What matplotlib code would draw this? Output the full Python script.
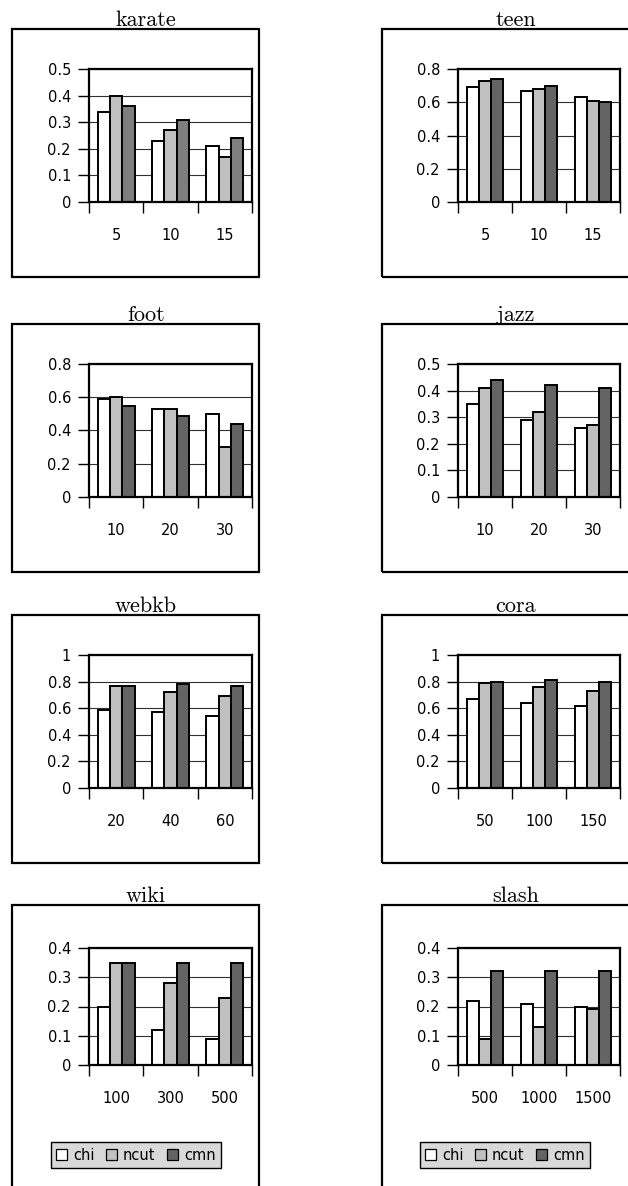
import numpy as np
import matplotlib
matplotlib.use("Agg")
import matplotlib.pyplot as plt
from matplotlib.patches import Rectangle, Patch

# ---------------- data ----------------
series_names = ["chi", "ncut", "cmn"]

titles = ["karate", "teen", "foot", "jazz", "webkb", "cora", "wiki", "slash"]

cats_karate = ["5", "10", "15"]
chi_karate = [0.34, 0.23, 0.21]
ncut_karate = [0.40, 0.27, 0.17]
cmn_karate = [0.36, 0.31, 0.24]

cats_teen = ["5", "10", "15"]
chi_teen = [0.69, 0.67, 0.63]
ncut_teen = [0.73, 0.68, 0.61]
cmn_teen = [0.74, 0.70, 0.60]

cats_foot = ["10", "20", "30"]
chi_foot = [0.59, 0.53, 0.50]
ncut_foot = [0.60, 0.53, 0.30]
cmn_foot = [0.55, 0.49, 0.44]

cats_jazz = ["10", "20", "30"]
chi_jazz = [0.35, 0.29, 0.26]
ncut_jazz = [0.41, 0.32, 0.27]
cmn_jazz = [0.44, 0.42, 0.41]

cats_webkb = ["20", "40", "60"]
chi_webkb = [0.59, 0.57, 0.54]
ncut_webkb = [0.77, 0.72, 0.69]
cmn_webkb = [0.77, 0.78, 0.77]

cats_cora = ["50", "100", "150"]
chi_cora = [0.67, 0.64, 0.62]
ncut_cora = [0.79, 0.76, 0.73]
cmn_cora = [0.80, 0.81, 0.80]

cats_wiki = ["100", "300", "500"]
chi_wiki = [0.20, 0.12, 0.09]
ncut_wiki = [0.35, 0.28, 0.23]
cmn_wiki = [0.35, 0.35, 0.35]

cats_slash = ["500", "1000", "1500"]
chi_slash = [0.22, 0.21, 0.20]
ncut_slash = [0.09, 0.13, 0.19]
cmn_slash = [0.32, 0.32, 0.32]

ymax_list = [0.5, 0.8, 0.8, 0.5, 1.0, 1.0, 0.4, 0.4]
ystep_list = [0.1, 0.2, 0.2, 0.1, 0.2, 0.2, 0.1, 0.1]

panels = [
    (cats_karate, chi_karate, ncut_karate, cmn_karate),
    (cats_teen, chi_teen, ncut_teen, cmn_teen),
    (cats_foot, chi_foot, ncut_foot, cmn_foot),
    (cats_jazz, chi_jazz, ncut_jazz, cmn_jazz),
    (cats_webkb, chi_webkb, ncut_webkb, cmn_webkb),
    (cats_cora, chi_cora, ncut_cora, cmn_cora),
    (cats_wiki, chi_wiki, ncut_wiki, cmn_wiki),
    (cats_slash, chi_slash, ncut_slash, cmn_slash),
]

# ---------------- style / layout ----------------
W, H = 628, 1186
fig = plt.figure(figsize=(W / 100, H / 100), dpi=100)
fig.patch.set_facecolor("white")

col_plot = [(89, 252), (458, 620)]
row_plot = [(69, 202), (364, 497), (655, 788), (948, 1065)]
col_box = [(12, 259), (382, 632)]
row_box = [(29, 277), (324, 572), (615, 863), (905, 1192)]

c_chi = "#ffffff"
c_ncut = "#c0c0c0"
c_cmn = "#646464"
c_cmn_light = "#7e7e7e"

tick_font = dict(family="DejaVu Sans", size=10.5)
title_font = dict(family="cmr10", size=16)


def fx(px):
    return px / W


def fy(py):
    return 1 - py / H


for idx, (cats, chi, ncut, cmn) in enumerate(panels):
    r, c = divmod(idx, 2)
    bx0, bx1 = col_box[c]
    by0, by1 = row_box[r]
    # outer chart-area frame
    fig.patches.append(Rectangle((fx(bx0), fy(by1)), fx(bx1 - bx0), (by1 - by0) / H,
                                 transform=fig.transFigure, facecolor="none",
                                 edgecolor="black", linewidth=1.6, zorder=10))
    # title
    fig.text(fx(bx0 + 134), fy(by0 - 3), titles[idx], ha="center", va="baseline",
             **title_font)

    x0, x1 = col_plot[c]
    yt, yb = row_plot[r]
    ax = fig.add_axes([fx(x0), fy(yb), fx(x1 - x0), (yb - yt) / H])
    ax.set_facecolor("white")
    x = np.arange(len(cats))
    w = 0.226
    cmn_col = c_cmn_light if idx == 0 else c_cmn
    for k, (vals, col) in enumerate([(chi, c_chi), (ncut, c_ncut), (cmn, cmn_col)]):
        ax.bar(x + (k - 1) * w, vals, w, color=col, edgecolor="black",
               linewidth=1.4, zorder=3)
    ax.set_xlim(-0.5, len(cats) - 0.5)
    ymax = ymax_list[idx]
    step = ystep_list[idx]
    ax.set_ylim(0, ymax)
    yt_vals = np.round(np.arange(0, ymax + step / 2, step), 3)
    ax.set_yticks(yt_vals)
    ax.set_yticklabels(["%g" % v for v in yt_vals], **tick_font)
    ax.yaxis.grid(True, color="#303030", linewidth=0.8, zorder=1)
    ax.set_axisbelow(True)

    ax.set_xticks(np.arange(len(cats) + 1) - 0.5)
    ax.set_xticklabels([])
    ax.set_xticks(x, minor=True)
    ax.set_xticklabels(cats, minor=True, **tick_font)
    ax.tick_params(axis="x", which="major", length=8, width=1.0, direction="out")
    ax.tick_params(axis="x", which="minor", length=0, pad=18.5)
    ax.tick_params(axis="y", length=8, width=1.0, direction="out", pad=5)
    for s in ax.spines.values():
        s.set_linewidth(1.6)
        s.set_zorder(5)

# legends in bottom panels
handles = [Patch(facecolor=c_chi, edgecolor="black", linewidth=0.9),
           Patch(facecolor=c_ncut, edgecolor="black", linewidth=0.9),
           Patch(facecolor=c_cmn, edgecolor="black", linewidth=0.9)]
for cx in (136, 505):
    leg = fig.legend(handles, series_names, loc="center",
                     bbox_to_anchor=(fx(cx), fy(1155)), ncol=3, frameon=True,
                     fancybox=False, edgecolor="black", facecolor="#d9d9d9",
                     framealpha=1, prop=dict(family="DejaVu Sans", size=10.5),
                     handlelength=0.75, handleheight=0.75, handletextpad=0.4,
                     columnspacing=0.8, borderpad=0.4)
    leg.get_frame().set_linewidth(1.0)

fig.savefig("out.png", dpi=100, facecolor="white")
